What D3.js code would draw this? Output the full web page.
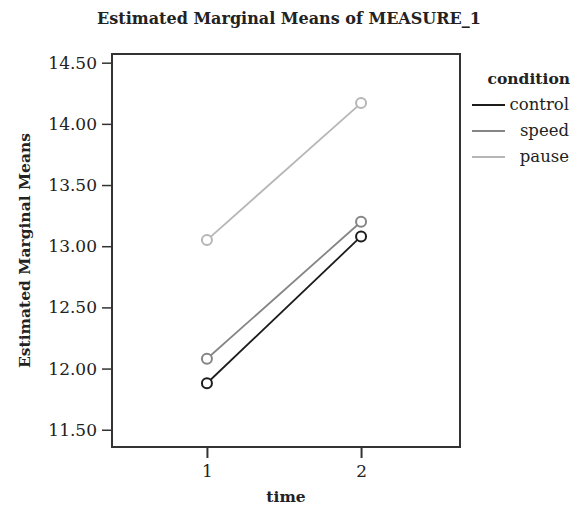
<!DOCTYPE html>
<html>
<head>
<meta charset="utf-8">
<script src="https://cdn.jsdelivr.net/npm/d3@7"></script>
<style>
  body { margin: 0; background: #fff; }
</style>
</head>
<body>
<svg id="graphArea" width="574" height="508"></svg>
<script>

/* データ */
let times = [1, 2];
let conditions = ["control", "speed", "pause"];
let controlMeans = [11.88, 13.08];
let speedMeans = [12.08, 13.20];
let pauseMeans = [13.05, 14.17];
let yTicks = [11.5, 12.0, 12.5, 13.0, 13.5, 14.0, 14.5];

// 系列の色
let colors = ["#1c1c1c", "#858585", "#b6b6b6"];

let series = [controlMeans, speedMeans, pauseMeans];

let font = "'DejaVu Serif', 'Liberation Serif', serif";

/* SVG */
let svg = d3.select("#graphArea")
  .style("font-family", font);

// プロット領域
let ml = 112, mr = 460, mt = 54, mb = 447;

// スケール
let x = d3.scaleLinear()
  .domain([0.384, 2.642])
  .range([ml, mr]);
let y = d3.scaleLinear()
  .domain([11.359, 14.571])
  .range([mb, mt]);

// タイトル
svg.append("text")
  .attr("x", 289)
  .attr("y", 24)
  .attr("text-anchor", "middle")
  .attr("font-size", "16px")
  .attr("font-weight", "bold")
  .attr("fill", "#222")
  .text("Estimated Marginal Means of MEASURE_1");

// Y 軸
let yAxis = d3.axisLeft(y)
  .tickValues(yTicks)
  .tickSize(10)
  .tickPadding(5)
  .tickFormat(d3.format(".2f"));
let gy = svg.append("g")
  .attr("transform", `translate(${ml},0)`)
  .call(yAxis)
  .attr("font-family", font)
  .attr("font-size", "17px");
gy.select(".domain").remove();
gy.selectAll(".tick line").attr("stroke", "#333").attr("stroke-width", 1.5);
gy.selectAll(".tick text").attr("fill", "#222");

// X 軸
let xAxis = d3.axisBottom(x)
  .tickValues(times)
  .tickSize(11)
  .tickPadding(7)
  .tickFormat(d3.format("d"));
let gx = svg.append("g")
  .attr("transform", `translate(0,${mb})`)
  .call(xAxis)
  .attr("font-family", font)
  .attr("font-size", "17px");
gx.select(".domain").remove();
gx.selectAll(".tick line").attr("stroke", "#333").attr("stroke-width", 2);
gx.selectAll(".tick text").attr("fill", "#222");

// 枠
svg.append("rect")
  .attr("x", ml)
  .attr("y", mt)
  .attr("width", mr - ml)
  .attr("height", mb - mt)
  .attr("fill", "none")
  .attr("stroke", "#333")
  .attr("stroke-width", 2);

// 軸タイトル
svg.append("text")
  .attr("transform", `translate(30,${(mt + mb) / 2}) rotate(-90)`)
  .attr("text-anchor", "middle")
  .attr("font-size", "15.5px")
  .attr("font-weight", "bold")
  .attr("fill", "#222")
  .text("Estimated Marginal Means");
svg.append("text")
  .attr("x", x(1.5) + 2)
  .attr("y", 502)
  .attr("text-anchor", "middle")
  .attr("font-size", "15.5px")
  .attr("font-weight", "bold")
  .attr("fill", "#222")
  .text("time");

// 折れ線と点
let line = d3.line()
  .x((d, i) => x(times[i]))
  .y(d => y(d));
series.forEach((vals, k) => {
  let g = svg.append("g").attr("class", "series");
  g.append("path")
    .datum(vals)
    .attr("d", line)
    .attr("fill", "none")
    .attr("stroke", colors[k])
    .attr("stroke-width", 1.8);
  g.selectAll("circle")
    .data(vals)
    .enter()
    .append("circle")
    .attr("cx", (d, i) => x(times[i]))
    .attr("cy", d => y(d))
    .attr("r", 5)
    .attr("fill", "#fff")
    .attr("stroke", colors[k])
    .attr("stroke-width", 2);
});

/* レジェンド */
let lg = svg.append("g").attr("class", "legend");
lg.append("text")
  .attr("x", 570)
  .attr("y", 84)
  .attr("text-anchor", "end")
  .attr("font-size", "15.5px")
  .attr("font-weight", "bold")
  .attr("fill", "#222")
  .text("condition");
let rowH = 26;
lg.selectAll("line")
  .data(colors)
  .enter()
  .append("line")
  .attr("x1", 472)
  .attr("x2", 505)
  .attr("y1", (d, i) => 105 + rowH * i)
  .attr("y2", (d, i) => 105 + rowH * i)
  .attr("stroke", d => d)
  .attr("stroke-width", 2);
lg.selectAll("text.item")
  .data(conditions)
  .enter()
  .append("text")
  .attr("class", "item")
  .attr("x", 569)
  .attr("y", (d, i) => 110 + rowH * i)
  .attr("text-anchor", "end")
  .attr("font-size", "16.5px")
  .attr("fill", "#222")
  .text(d => d);

</script>
</body>
</html>
